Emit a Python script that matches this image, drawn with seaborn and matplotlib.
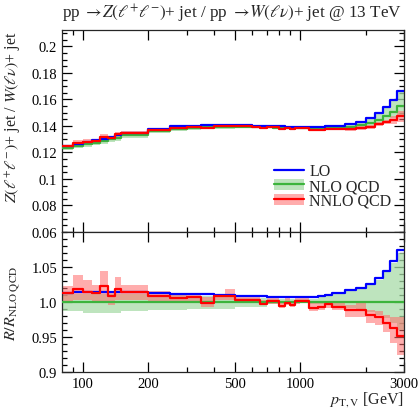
import numpy as np
import pandas as pd
import matplotlib
matplotlib.use("Agg")
import matplotlib.pyplot as plt
import seaborn as sns
from matplotlib.lines import Line2D
from matplotlib.patches import Patch
from matplotlib.ticker import FixedLocator, NullFormatter

# ---------------- data ----------------
edges = [80, 90, 100, 110, 120, 130, 140, 150, 200, 250, 300, 350, 400, 450, 500,
         550, 600, 650, 700, 750, 800, 850, 900, 950, 1000, 1100, 1200, 1300, 1400,
         1600, 1800, 2000, 2200, 2400, 2600, 2800, 3000]

nlo = [0.1232, 0.1250, 0.1262, 0.1273, 0.1284, 0.1300, 0.1311, 0.1330, 0.1362, 0.1380,
       0.1386, 0.1389, 0.1391, 0.1392, 0.1392, 0.1392, 0.1391, 0.1390, 0.1389, 0.1388,
       0.1387, 0.1386, 0.1385, 0.1384, 0.1383, 0.1382, 0.1382, 0.1383, 0.1386, 0.1393,
       0.1404, 0.1420, 0.1446, 0.1475, 0.1505, 0.1547]

nlo_up_ratio = [1.012, 1.012, 1.012, 1.012, 1.012, 1.012, 1.012, 1.012, 1.010, 1.010,
                1.008, 1.008, 1.008, 1.008, 1.006, 1.006, 1.006, 1.006, 1.005, 1.005,
                1.005, 1.005, 1.005, 1.005, 1.005, 1.005, 1.007, 1.009, 1.011, 1.016,
                1.019, 1.025, 1.032, 1.043, 1.056, 1.070]
nlo_dn_ratio = [0.9865, 0.9865, 0.984, 0.984, 0.984, 0.984, 0.984, 0.9865, 0.988, 0.988,
                0.990, 0.990, 0.990, 0.990, 0.993, 0.993, 0.993, 0.993, 0.9966, 0.9966,
                0.9966, 0.9966, 0.9966, 0.998, 0.998, 0.997, 0.997, 0.997, 0.995, 0.992,
                0.990, 0.986, 0.982, 0.977, 0.970, 0.960]

lo_ratio = [1.013, 1.014, 1.015, 1.015, 1.015, 1.015, 1.015, 1.015, 1.013, 1.012,
            1.011, 1.011, 1.010, 1.010, 1.009, 1.009, 1.008, 1.008, 1.007, 1.007,
            1.007, 1.007, 1.007, 1.007, 1.007, 1.007, 1.0087, 1.0106, 1.0125, 1.0173,
            1.020, 1.026, 1.0337, 1.045, 1.0587, 1.074]

nnlo_ratio = [1.013, 1.019, 1.015, 1.0125, 1.0226, 1.009, 1.019, 1.014, 1.008, 1.006,
              1.007, 0.999, 1.008, 1.008, 1.003, 1.003, 1.003, 0.9976, 1.001, 1.001,
              0.995, 0.999, 0.996, 1.002, 1.002, 0.992, 0.993, 0.9966, 0.9928, 0.9885,
              0.9885, 0.981, 0.978, 0.970, 0.9625, 0.952]
nnlo_up_ratio = [1.0226, 1.038, 1.032, 1.025, 1.045, 1.0154, 1.0356, 1.025, 1.0154, 1.013,
                 1.012, 1.0072, 1.0106, 1.0188, 1.0082, 1.0082, 1.0067, 1.0034, 1.0067, 1.0067,
                 1.000, 1.0058, 1.0019, 1.0082, 1.0058, 0.9986, 1.000, 1.0019, 0.9986, 0.9962,
                 0.9986, 0.989, 0.9865, 0.9808, 0.9793, 0.9793]
nnlo_dn_ratio = [0.9986, 1.0034, 1.0034, 1.0019, 1.001, 0.9952, 1.0034, 1.0034, 1.001, 1.001,
                 1.001, 0.9923, 1.0034, 1.0034, 0.9986, 0.9986, 0.9995, 0.9952, 0.9971, 0.9971,
                 0.9913, 0.9962, 0.9923, 0.9971, 0.9986, 0.9865, 0.989, 0.9913, 0.989, 0.9793,
                 0.9779, 0.9697, 0.9673, 0.9577, 0.9409, 0.924]

labels = ["LO", "NLO QCD", "NNLO QCD"]
title = r"pp $\to\!Z(\ell^{+}\ell^{-})$+ jet / pp $\to\!W(\ell\nu)$+ jet @ 13 TeV"
ylabel_top = r"$Z(\ell^{+}\ell^{-})$+ jet / $W(\ell\nu)$+ jet"
ylabel_bot = r"$R/R_{\mathrm{NLO\ QCD}}$"
xlabel = r"$p_{\mathrm{T,V}}$ [GeV]"
xtick_major = [100, 200, 500, 1000, 3000]
xtick_minor = [90, 300, 400, 600, 700, 800, 900, 2000]

# ---------------- derived series ----------------
e = np.array(edges, dtype=float)
nlo_a = np.array(nlo)
series_top = {
    "lo": nlo_a * np.array(lo_ratio),
    "nlo": nlo_a,
    "nnlo": nlo_a * np.array(nnlo_ratio),
}
band_top = {
    "nlo": (nlo_a * np.array(nlo_dn_ratio), nlo_a * np.array(nlo_up_ratio)),
    "nnlo": (nlo_a * np.array(nnlo_dn_ratio), nlo_a * np.array(nnlo_up_ratio)),
}

def ext(v):
    v = np.asarray(v, dtype=float)
    return np.append(v, v[-1])

# ---------------- style ----------------
sns.set_theme(style="ticks")
plt.rcParams["font.family"] = ["Liberation Serif", "DejaVu Serif"]
plt.rcParams["mathtext.fontset"] = "stix"
plt.rcParams["axes.linewidth"] = 0.9

C_LO = "#0000ff"
C_NLO = "#3cb43c"
C_NLO_BAND = "#a8dca8"
C_NNLO = "#ff0000"
C_NNLO_BAND = "#ff6a6a"

fig = plt.figure(figsize=(4.2, 4.1), dpi=100)
ax1 = fig.add_axes([0.1476, 0.4317, 0.8143, 0.4927])
ax2 = fig.add_axes([0.1476, 0.0902, 0.8143, 0.3415], sharex=ax1)

def draw(ax, lo, nl, nn, nlb, nnb):
    ax.fill_between(e, ext(nlb[0]), ext(nlb[1]), step="post", color=C_NLO_BAND,
                    alpha=0.75, lw=0, zorder=1)
    ax.fill_between(e, ext(nnb[0]), ext(nnb[1]), step="post", color=C_NNLO_BAND,
                    alpha=0.55, lw=0, zorder=2)
    for vals, col, z in [(nl, C_NLO, 3), (lo, C_LO, 4), (nn, C_NNLO, 5)]:
        df = pd.DataFrame({"x": e, "y": ext(vals)})
        sns.lineplot(data=df, x="x", y="y", ax=ax, drawstyle="steps-post",
                     color=col, lw=1.6, zorder=z, legend=False)

draw(ax1, series_top["lo"], series_top["nlo"], series_top["nnlo"],
     band_top["nlo"], band_top["nnlo"])
draw(ax2, series_top["lo"] / nlo_a, nlo_a / nlo_a, series_top["nnlo"] / nlo_a,
     (band_top["nlo"][0] / nlo_a, band_top["nlo"][1] / nlo_a),
     (band_top["nnlo"][0] / nlo_a, band_top["nnlo"][1] / nlo_a))

for ax in (ax1, ax2):
    ax.set_xscale("log")
    ax.set_xlim(80, 3000)
    ax.xaxis.set_major_locator(FixedLocator(xtick_major))
    ax.xaxis.set_minor_locator(FixedLocator(xtick_minor))
    ax.xaxis.set_minor_formatter(NullFormatter())
    ax.tick_params(which="both", direction="in", top=True, right=True,
                   width=0.9, colors="black", labelsize=10.5)
    ax.tick_params(which="major", length=7)
    ax.tick_params(which="minor", length=3.5)
    ax.set_xlabel("")
    ax.set_ylabel("")

ax1.set_ylim(0.06, 0.2124)
ax1.yaxis.set_major_locator(FixedLocator([0.06, 0.08, 0.1, 0.12, 0.14, 0.16, 0.18, 0.2]))
ax1.yaxis.set_minor_locator(FixedLocator(np.arange(0.06, 0.2125, 0.005)))
ax1.set_yticklabels(["0.06", "0.08", "0.1", "0.12", "0.14", "0.16", "0.18", "0.2"])
ax1.tick_params(axis="x", labelbottom=False)

ax2.set_ylim(0.9, 1.1)
ax2.yaxis.set_major_locator(FixedLocator([0.9, 0.95, 1.0, 1.05]))
ax2.yaxis.set_minor_locator(FixedLocator(np.arange(0.9, 1.1001, 0.01)))
ax2.set_yticklabels(["0.9", "0.95", "1.0", "1.05"])
ax2.set_xticks(xtick_major)
ax2.set_xticklabels([str(v) for v in xtick_major])

ax1.set_title(title, loc="left", fontsize=12.3, pad=9)
ax1.set_ylabel(ylabel_top, loc="top", fontsize=11.5, labelpad=6)
ax2.set_ylabel(ylabel_bot, fontsize=11.5, labelpad=6)
ax2.set_xlabel(xlabel, fontsize=11.5, ha="right", va="top")
ax2.xaxis.set_label_coords(1.0, -0.125)

handles = [
    Line2D([], [], color=C_LO, lw=1.6),
    (Patch(facecolor=C_NLO_BAND, alpha=0.75, lw=0), Line2D([], [], color=C_NLO, lw=1.6)),
    (Patch(facecolor=C_NNLO_BAND, alpha=0.55, lw=0), Line2D([], [], color=C_NNLO, lw=1.6)),
]
ax1.legend(handles, labels, loc="upper left", bbox_to_anchor=(0.62, 0.34),
           frameon=False, fontsize=11.5, handlelength=1.9, handleheight=0.7,
           handletextpad=0.3, labelspacing=-0.08, borderpad=0, borderaxespad=0)

fig.savefig("out.png", dpi=100)
